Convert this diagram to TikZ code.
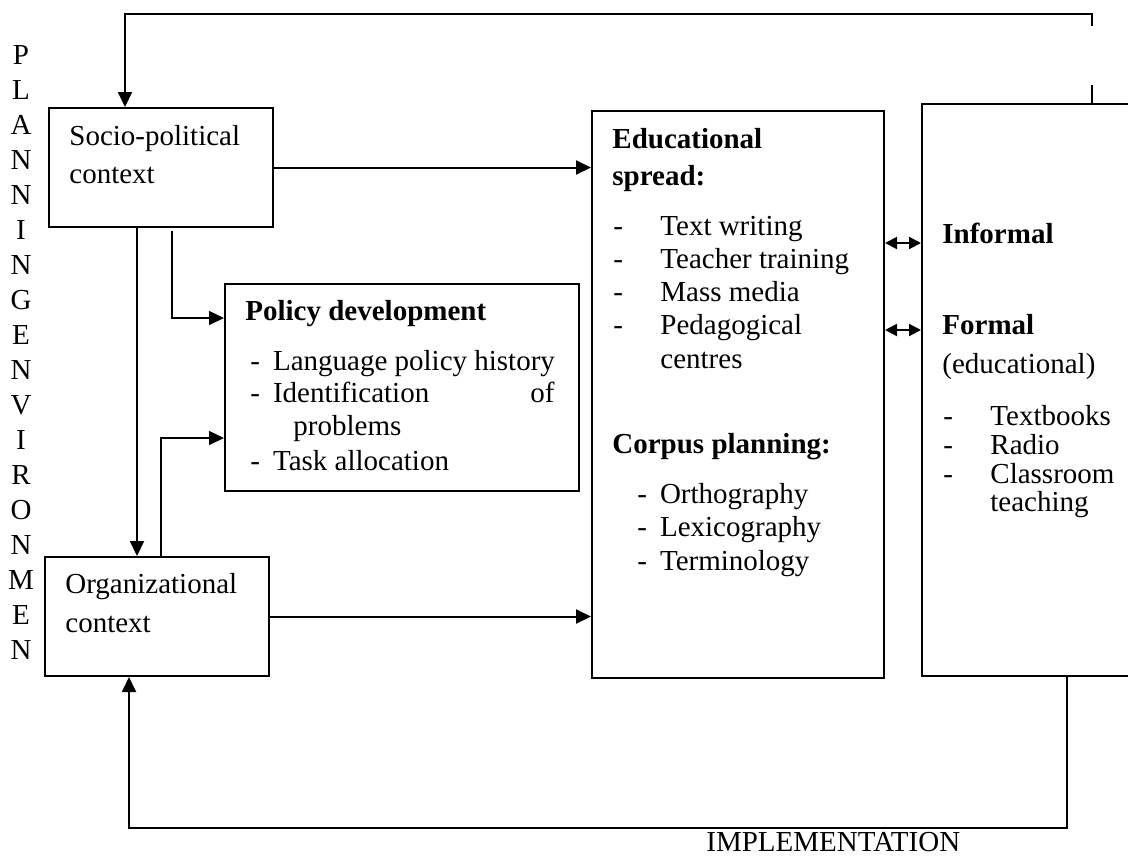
\documentclass[tikz,border=0pt]{standalone}
\usepackage{fontspec}
\setmainfont{Liberation Serif}
\usetikzlibrary{arrows.meta,positioning,calc}

\begin{document}
\begin{tikzpicture}[x=0.5pt, y=-0.5pt,
            box/.style={draw, line width=1pt, inner sep=0pt, anchor=north west},
            txt/.style={inner sep=0pt, anchor=base west, font=\fontsize{14.5}{17}\selectfont},
            ttl/.style={txt, font=\fontsize{14.5}{17}\selectfont\bfseries},
            letter/.style={inner sep=0pt, font=\fontsize{14.5}{17}\selectfont},
            link/.style={line width=1pt, -{Triangle[length=7.5pt,width=7pt]}},
            thin/.style={link, line width=0.75pt},
            both/.style={line width=1pt, {Triangle[length=6pt,width=6pt]}-{Triangle[length=6pt,width=6pt]}},
            plain/.style={line width=1pt}]
        \useasboundingbox (0,0) rectangle (1128,858);

        \node[box, minimum width=112pt, minimum height=59.5pt] (socio) at (48,107) {};
        \node[box, minimum width=112pt, minimum height=59.5pt] (org) at (44,556) {};
        \node[box, minimum width=177pt, minimum height=103.5pt] (policy) at (224,283) {};
        \node[box, minimum width=146pt, minimum height=283.5pt] (edu) at (591,110) {};
        \node[box, minimum width=120pt, minimum height=286pt] (inf) at (921,103) {};

        \node[txt] (socio1) at (69,145) {Socio-political};
        \node[txt] (socio2) at (69,183) {context};
        \node[txt] (org1) at (65,593) {Organizational};
        \node[txt] (org2) at (65,632) {context};

        \node[ttl] (poltitle) at (245,320) {Policy development};
        \node[txt] (pol1) at (250,370) {-\hspace{6.5pt}Language policy history};
        \node[txt] (pol2) at (250,402) {-\hspace{6.5pt}Identification};
        \node[txt, anchor=base east] (pol2b) at (555,402) {of};
        \node[txt] (pol3) at (293,435) {problems};
        \node[txt] (pol4) at (250,470) {-\hspace{6.5pt}Task allocation};

        \node[ttl] (edutitle) at (612,148) {Educational};
        \node[ttl] (edutitle2) at (612,185) {spread:};
        \foreach \t [count=\i] in {Text writing, Teacher training, Mass media, Pedagogical} {
            \node[txt] (esd\i) at (613,235+33.3*\i-33.3) {-};
            \node[txt] (es\i) at (660,235+33.3*\i-33.3) {\t};
        }
        \node[txt] (es5) at (660,368) {centres};
        \node[ttl] (corptitle) at (612,453) {Corpus planning:};
        \foreach \t [count=\i] in {Orthography, Lexicography, Terminology} {
            \node[txt] (cp\i) at (637,503+33.5*\i-33.5) {-\hspace{6.5pt}\t};
        }

        \node[ttl] (inf1) at (942,243) {Informal};
        \node[ttl] (inf2) at (942,334) {Formal};
        \node[txt] (inf3) at (942,373) {(educational)};
        \foreach \t [count=\i] in {Textbooks, Radio, Classroom} {
            \node[txt] (ifd\i) at (943,425+29*\i-29) {-};
            \node[txt] (if\i) at (990,425+29*\i-29) {\t};
        }
        \node[txt] (if4) at (990,511) {teaching};

        \foreach \c [count=\i from 0] in {P,L,A,N,N,I,N,G,E,N,V,I,R,O,N,M,E,N}
            \node[letter] (pe\i) at (21,55+35*\i) {\c};
        \node[txt] (impl) at (706,851) {IMPLEMENTATION};

        \coordinate (s1) at ([xshift=44.5pt]socio.south west);
        \coordinate (s2) at ([xshift=62pt,yshift=-1.5pt]socio.south west);
        \coordinate (o1) at ([xshift=58.5pt]org.north west);
        \coordinate (p1) at ([yshift=-17.5pt]policy.north west);
        \coordinate (p2) at ([yshift=-77.5pt]policy.north west);
        \coordinate (d1) at ([yshift=-66.5pt]edu.north east);
        \coordinate (d2) at ([yshift=-110pt]edu.north east);
        \coordinate (t1) at ([xshift=85.5pt]inf.north west);
        \coordinate (t2) at ([yshift=38.5pt]t1);
        \coordinate (b1) at ([xshift=73pt]inf.south west);

        \draw[link] (socio.east) -- (socio.east -| edu.west);
        \draw[link] (org.east) -- (org.east -| edu.west);
        \draw[link] (s1) -- (s1 |- org.north);
        \draw[thin] (s2) |- (p1);
        \draw[thin] (o1) |- (p2);
        \draw[both] (d1) -- (d1 -| inf.west);
        \draw[both] (d2) -- (d2 -| inf.west);
        \draw[plain] (t1) -- ++(0,-18);
        \draw[link] (t2) -- ++(0,-12) -| ([xshift=38.5pt]socio.north west);
        \draw[link] (b1) -- ++(0,151) -| ([xshift=42.5pt]org.south west);
\end{tikzpicture}
\end{document}
